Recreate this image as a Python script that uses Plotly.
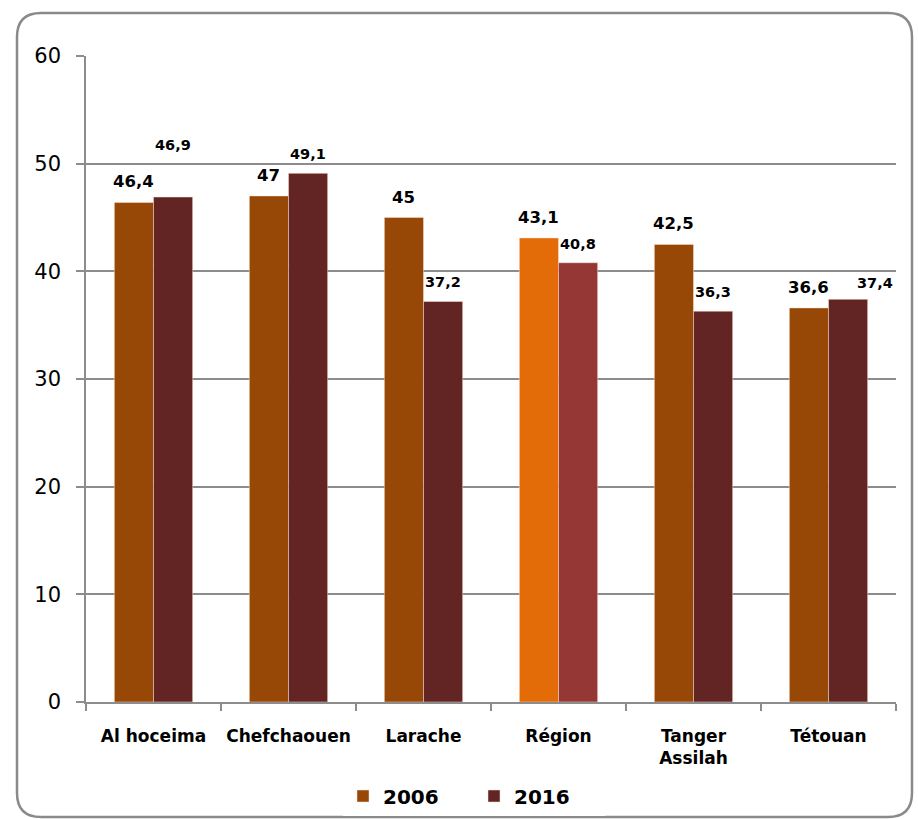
import plotly.graph_objects as go

# ---- data ----
categories = ["Al hoceima", "Chefchaouen", "Larache", "Région", "Tanger Assilah", "Tétouan"]
tick_labels = ["Al hoceima", "Chefchaouen", "Larache", "Région", "Tanger<br>Assilah", "Tétouan"]
series_names = ["2006", "2016"]
values_2006 = [46.4, 47, 45, 43.1, 42.5, 36.6]
values_2016 = [46.9, 49.1, 37.2, 40.8, 36.3, 37.4]
y_ticks = [0, 10, 20, 30, 40, 50, 60]

# ---- styles ----
color_2006 = "#974706"
color_2016 = "#632523"
highlight_2006 = "#E36C09"
highlight_2016 = "#953735"
highlight_cat = "Région"
FONT = "DejaVu Sans"
GRID = "#8c8c8c"

# label nudges (pixels) for individual labels
label_nudge = {("2016", "Al hoceima"): (0, 33), ("2016", "Tétouan"): (27, -3)}

W, H = 918, 819
ML, MR, MT, MB = 86, 22, 56, 117

def fmt(v):
    return f"{v:g}".replace(".", ",")

c06 = [highlight_2006 if c == highlight_cat else color_2006 for c in categories]
c16 = [highlight_2016 if c == highlight_cat else color_2016 for c in categories]

fig = go.Figure()
fig.add_trace(go.Bar(name=series_names[0], x=categories, y=values_2006,
                     marker=dict(color=c06, line=dict(color="rgba(255,230,210,0.6)", width=0.8))))
fig.add_trace(go.Bar(name=series_names[1], x=categories, y=values_2016,
                     marker=dict(color=c16, line=dict(color="rgba(255,230,210,0.6)", width=0.8))))

plot_w = W - ML - MR
plot_h = H - MT - MB
cat_px = plot_w / len(categories)
bargap = 0.42
bar_px = cat_px * (1 - bargap) / 2

annotations = []
for name, vals, sign, size in [("2006", values_2006, -1, 16.5), ("2016", values_2016, 1, 14.5)]:
    for c, v in zip(categories, vals):
        dx, dy = label_nudge.get((name, c), (0, 0))
        annotations.append(dict(
            x=c, y=v, xref="x", yref="y", showarrow=False,
            text=fmt(v), xanchor="center", yanchor="bottom",
            xshift=sign * bar_px / 2 + dx, yshift=9 + dy,
            font=dict(family=FONT, size=size, color="black", weight="bold"),
        ))

# rounded frame (paper coords)
def X(px):
    return (px - ML) / plot_w

def Y(py):
    return (H - MB - py) / plot_h

L_, R_, T_, B_, r = 17, 912, 13, 817, 24
path = (f"M{X(L_+r)},{Y(T_)} L{X(R_-r)},{Y(T_)} Q{X(R_)},{Y(T_)} {X(R_)},{Y(T_+r)} "
        f"L{X(R_)},{Y(B_-r)} Q{X(R_)},{Y(B_)} {X(R_-r)},{Y(B_)} "
        f"L{X(L_+r)},{Y(B_)} Q{X(L_)},{Y(B_)} {X(L_)},{Y(B_-r)} "
        f"L{X(L_)},{Y(T_+r)} Q{X(L_)},{Y(T_)} {X(L_+r)},{Y(T_)} Z")

fig.update_layout(
    width=W, height=H,
    margin=dict(l=ML, r=MR, t=MT, b=MB, pad=0, autoexpand=False),
    paper_bgcolor="white", plot_bgcolor="white",
    barmode="group", bargap=bargap, bargroupgap=0,
    font=dict(family=FONT, color="black"),
    showlegend=True,
    legend=dict(orientation="h", xref="container", yref="container",
                x=343 / W, xanchor="left", y=(H - 796) / H, yanchor="middle",
                font=dict(family=FONT, size=20, weight="bold", color="black"),
                traceorder="normal", itemwidth=30, entrywidth=86),
    annotations=annotations,
    shapes=[dict(type="path", path=path, xref="paper", yref="paper",
                 line=dict(color="#8a8a8a", width=2.5), layer="above")],
)
fig.update_xaxes(
    type="category", tickmode="array", tickvals=categories, ticktext=tick_labels,
    showline=True, linecolor=GRID, linewidth=1.5,
    ticks="outside", tickson="boundaries", ticklen=7, tickcolor=GRID, tickwidth=1.5,
    tickfont=dict(family=FONT, size=17, weight="bold", color="black"),
    ticklabelstandoff=18, showgrid=False,
)
fig.update_yaxes(
    range=[0, 60], tickmode="array", tickvals=y_ticks,
    showline=True, linecolor=GRID, linewidth=1.5,
    ticks="outside", ticklen=8, tickcolor=GRID, tickwidth=1.5,
    showgrid=True, gridcolor=GRID, gridwidth=1.5, zeroline=False,
    tickfont=dict(family=FONT, size=21, color="black"),
    ticklabelstandoff=11,
)

fig.write_html("out.html", config={"displayModeBar": False},
               post_script="document.body.style.margin='0px';")
